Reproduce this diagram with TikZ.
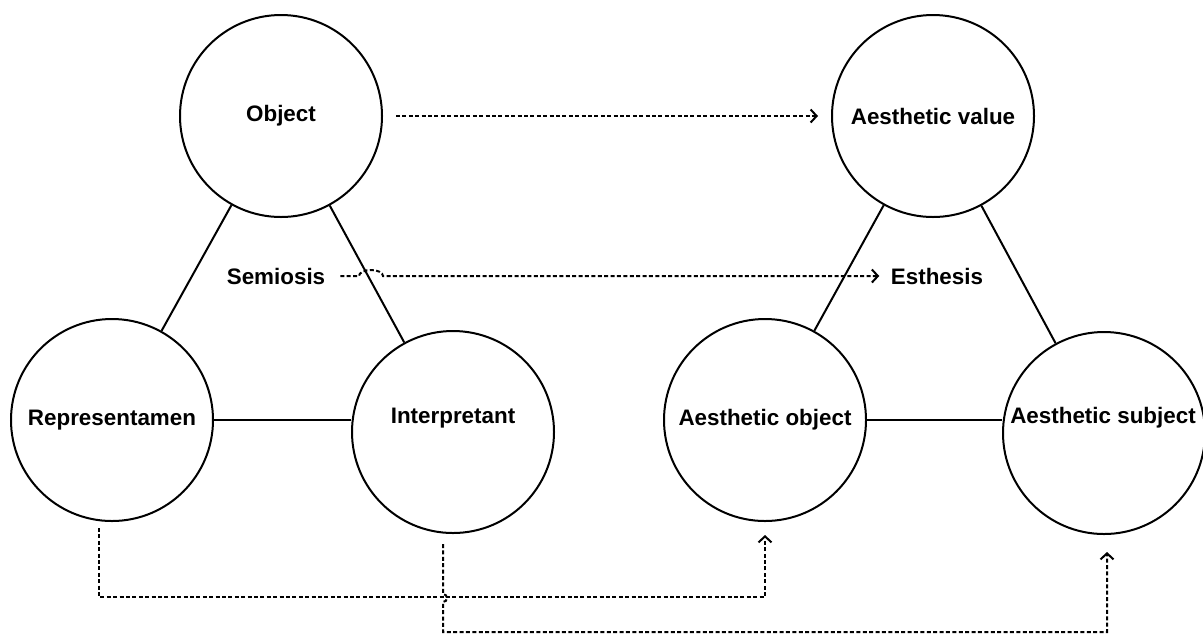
\documentclass[tikz,border=0pt]{standalone}
\usepackage{fontspec}
\setmainfont{Liberation Sans}
\usetikzlibrary{arrows.meta}

\begin{document}
\begin{tikzpicture}[x=0.5pt,y=-0.5pt,
  circ/.style={circle,draw,line width=1pt,minimum size=101pt,inner sep=0pt},
  lbl/.style={font=\fontsize{11.2}{13}\selectfont\bfseries},
  dots/.style={line width=1pt,dash pattern=on 2pt off 1.2pt},
  >={Straight Barb[length=3pt,width=6.5pt,line width=1pt]}]
\useasboundingbox (0,0) rectangle (1203,639);
% semiosis triangle
\node[circ,lbl] (obj) at (281,116) {Object};
\node[circ,lbl] (rep) at (112,420) {Representamen};
\node[circ] (int) at (453,432) {};
\node[lbl] (intt) at (453,418) {Interpretant};
% esthesis triangle
\node[circ,lbl] (aval) at (933,116) {Aesthetic value};
\node[circ,lbl] (aobj) at (765,420) {Aesthetic object};
\node[circ] (asub) at (1104,433) {};
\node[lbl] (asubt) at (1103,418) {Aesthetic subject};
\node[lbl] (semi) at (276,276) {Semiosis};
\node[lbl] (esth) at (937,276) {Esthesis};
\path[line width=1pt]
(obj) edge (rep)
(obj) edge (int)
(rep.east) edge (rep.east -| int.west)
(aval) edge (aobj)
(aval) edge (asub)
(aobj.east) edge (aobj.east -| asub.west)
;
\draw[dots,->] ([xshift=6.5pt]obj.east) -- ([xshift=-6.5pt]aval.west);
\draw[dots,->] ([xshift=4pt]semi.east) -- (359,276)
  arc[start angle=180,end angle=0,x radius=6pt,y radius=3pt] -- ([xshift=-2.3pt]esth.west);
\draw[dots,->] ([xshift=-6.5pt,yshift=-3pt]rep.south) -- ++(0,69) -| ([yshift=-6.5pt]aobj.south);
\draw[dots,->] ([xshift=-5pt,yshift=-5pt]int.south) -- ++(0,50)
  arc[start angle=90,end angle=-90,radius=2pt] -- ++(0,30) -| ([xshift=1.5pt,yshift=-8.5pt]asub.south);
\end{tikzpicture}
\end{document}
